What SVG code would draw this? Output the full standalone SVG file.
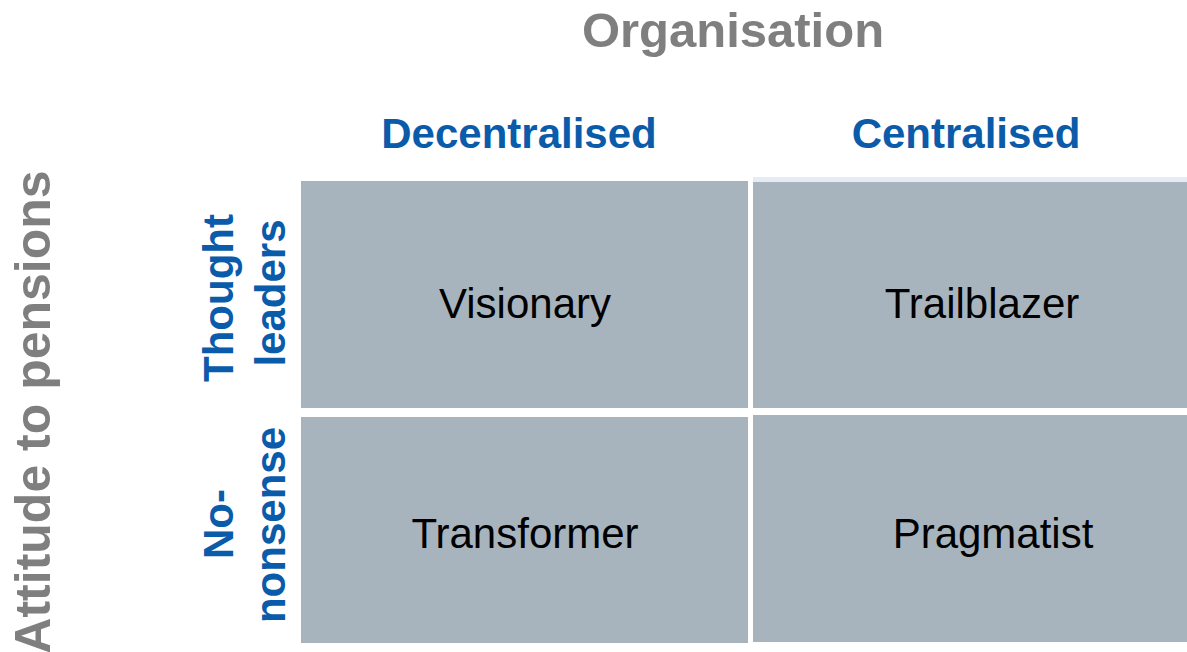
<svg xmlns="http://www.w3.org/2000/svg" width="1187" height="652" viewBox="0 0 1187 652">
<style>
.cell{fill:#A8B4BD}
.axis{font-family:"Liberation Sans",Arial,sans-serif;font-weight:bold;font-size:49px;fill:#7F7F7F}
.axv{font-size:50px}
.hdr{font-family:"Liberation Sans",Arial,sans-serif;font-weight:bold;font-size:42px;fill:#0A5BAA}
.lbl{font-family:"Liberation Sans",Arial,sans-serif;font-size:42px;fill:#000000}
</style>
<rect width="1187" height="652" fill="#FFFFFF"/>
<g id="title-organisation"><text class="axis" x="733" y="47" text-anchor="middle">Organisation</text></g>
<g id="title-attitude"><text class="axis axv" transform="translate(50,412) rotate(-90)" text-anchor="middle">Attitude to pensions</text></g>
<g id="col-decentralised"><text class="hdr" x="519" y="148" text-anchor="middle">Decentralised</text></g>
<g id="col-centralised"><text class="hdr" x="966" y="148" text-anchor="middle">Centralised</text></g>
<g id="row-thought-leaders">
<text class="hdr" transform="translate(233,298) rotate(-90)" text-anchor="middle">Thought</text>
<text class="hdr" transform="translate(285,293) rotate(-90)" text-anchor="middle">leaders</text>
</g>
<g id="row-no-nonsense">
<text class="hdr" transform="translate(233,524) rotate(-90)" text-anchor="middle">No-</text>
<text class="hdr" transform="translate(285,525) rotate(-90)" text-anchor="middle">nonsense</text>
</g>
<g id="cell-visionary">
<rect class="cell" x="301" y="181" width="447" height="227"/>
<text class="lbl" x="525" y="318" text-anchor="middle">Visionary</text>
</g>
<g id="cell-trailblazer">
<rect x="753" y="177" width="434" height="5" fill="#E6ECF4"/>
<rect class="cell" x="753" y="182" width="434" height="226"/>
<text class="lbl" x="982" y="318" text-anchor="middle">Trailblazer</text>
</g>
<g id="cell-transformer">
<rect class="cell" x="301" y="417" width="447" height="226"/>
<text class="lbl" x="525" y="548" text-anchor="middle">Transformer</text>
</g>
<g id="cell-pragmatist">
<rect class="cell" x="753" y="415" width="434" height="227"/>
<text class="lbl" x="993" y="548" text-anchor="middle">Pragmatist</text>
</g>
<g id="connectors"/>
</svg>
